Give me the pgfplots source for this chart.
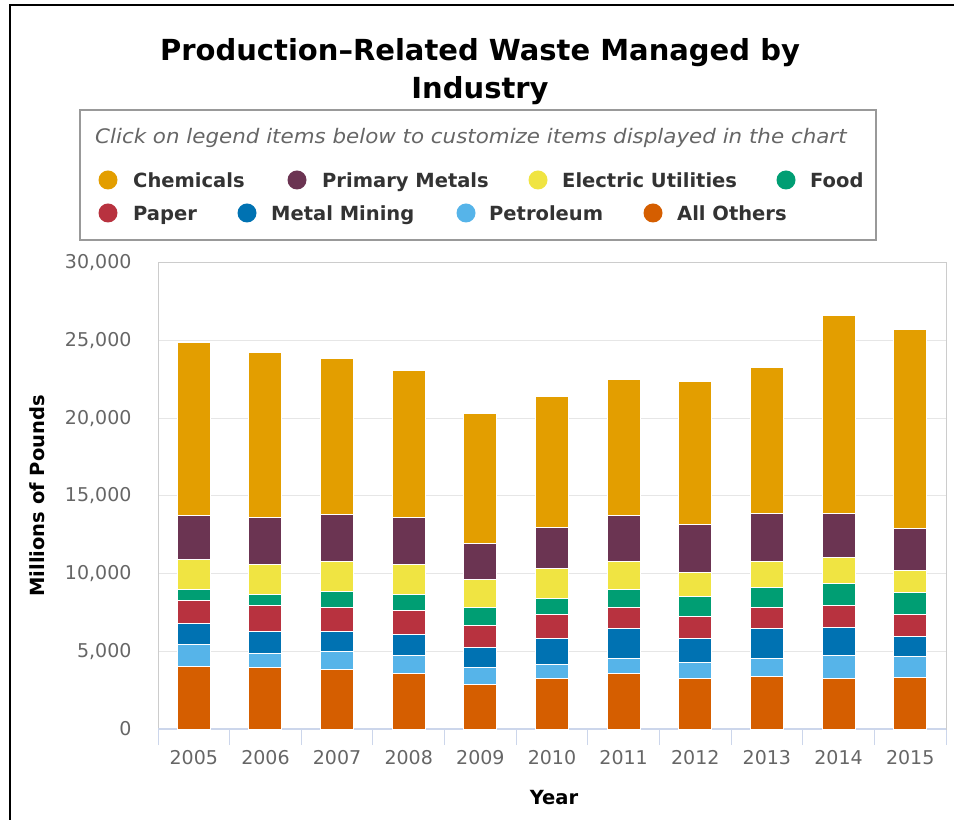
\documentclass[border=0pt]{standalone}
\usepackage{fontspec}
\setmainfont{DejaVu Sans}
\usepackage{pgfplots}
\usepackage{pgfplotstable}
\pgfplotsset{compat=1.18}
\definecolor{chem}{HTML}{E39E00}
\definecolor{pmet}{HTML}{6B3452}
\definecolor{elec}{HTML}{F0E442}
\definecolor{food}{HTML}{009E73}
\definecolor{paper}{HTML}{B8323F}
\definecolor{mmin}{HTML}{0072B2}
\definecolor{petr}{HTML}{56B4E9}
\definecolor{aoth}{HTML}{D55E00}
\definecolor{axblue}{HTML}{CCD6EB}
\definecolor{gridc}{HTML}{E6E6E6}
\definecolor{tickc}{HTML}{666666}
\definecolor{legtxt}{HTML}{333333}
\pgfplotstableread{
x AO Pet MM Pap Food Elec PM Chem
0 4030 1420 1330 1500 730 1870 2850 11120
1 3930 940 1420 1650 710 1910 3070 10620
2 3820 1180 1290 1520 1070 1890 3070 10040
3 3560 1180 1330 1530 1050 1910 3070 9440
4 2850 1100 1310 1390 1180 1780 2360 8370
5 3240 920 1680 1540 1030 1930 2600 8480
6 3580 950 1910 1370 1200 1780 2970 8710
7 3220 1090 1530 1410 1290 1550 3090 9160
8 3350 1180 1910 1370 1330 1650 3070 9440
9 3220 1540 1790 1390 1420 1670 2830 12750
10 3330 1330 1280 1420 1420 1410 2730 12830
}\datatable
\begin{document}
\begin{tikzpicture}
\path[use as bounding box] (0,0) rectangle (954pt,820pt);
% frame
\draw[line width=2.5pt,black] (10pt,0) -- (10pt,815pt) -- (954pt,815pt);
% title
\node[font=\fontsize{29}{33}\selectfont\bfseries] at (480pt,767pt) {Production–Related Waste Managed by};
\node[font=\fontsize{29}{33}\selectfont\bfseries] at (480pt,729pt) {Industry};
% legend box
\draw[line width=1.2pt,draw=gray!80] (80pt,580pt) rectangle (876pt,710pt);
\node[anchor=base west,inner sep=0pt,font=\fontsize{20}{24}\selectfont\itshape,text=tickc] at (95pt,676pt) {\scalebox{1.07}[1]{Click on legend items below to customize items displayed in the chart}};
\foreach \c/\t/\cx/\tx/\yy in {chem/Chemicals/108/133/640, pmet/Primary Metals/297/322/640, elec/Electric Utilities/538/562/640, food/Food/786/810/640, paper/Paper/108/133/607, mmin/Metal Mining/247/271/607, petr/Petroleum/466/489/607, aoth/All Others/653/677/607}{
  \fill[\c] (\cx pt,\yy pt) circle (9.5pt);
  \node[anchor=base west,inner sep=0pt,font=\fontsize{19.5}{23}\selectfont\bfseries,text=legtxt] at (\tx pt,\yy pt-7.5pt) {\t};
}
% axis titles
\node[rotate=90,font=\fontsize{19.5}{23}\selectfont\bfseries] at (37pt,324pt) {Millions of Pounds};
\node[font=\fontsize{19.5}{23}\selectfont\bfseries] at (554pt,22pt) {Year};
\begin{axis}[
  at={(158pt,91pt)}, anchor=south west,
  scale only axis, width=788pt, height=466pt,
  ybar stacked, bar width=33pt,
  xmin=-0.5, xmax=10.5, ymin=0, ymax=30000,
  xtick={-0.5,0.5,...,10.5}, xticklabels={},
  extra x ticks={0,1,...,10},
  extra x tick labels={2005,2006,2007,2008,2009,2010,2011,2012,2013,2014,2015},
  extra x tick style={major tick length=0pt, grid=none, xticklabel style={yshift=-18pt}},
  xtick pos=left, tick align=outside, major tick length=16pt,
  xtick style={draw=axblue, line width=1pt},
  ytick={0,5000,...,30000}, ytick style={draw=none},
  scaled y ticks=false,
  ymajorgrids, grid style={draw=gridc, line width=1pt},
  axis line style={draw=gray!40, line width=1pt},
  /pgf/number format/assume math mode=true,
  /pgf/number format/1000 sep={,},
  ticklabel style={font=\fontsize{19}{22}\selectfont, text=tickc},
  yticklabel style={xshift=-7pt},
  every axis plot/.append style={draw=white, line width=1pt},
]
\addplot[fill=aoth] table[x=x,y=AO]{\datatable};
\addplot[fill=petr] table[x=x,y=Pet]{\datatable};
\addplot[fill=mmin] table[x=x,y=MM]{\datatable};
\addplot[fill=paper] table[x=x,y=Pap]{\datatable};
\addplot[fill=food] table[x=x,y=Food]{\datatable};
\addplot[fill=elec] table[x=x,y=Elec]{\datatable};
\addplot[fill=pmet] table[x=x,y=PM]{\datatable};
\addplot[fill=chem] table[x=x,y=Chem]{\datatable};
\draw[axblue, line width=1.5pt] (rel axis cs:0,0) -- (rel axis cs:1,0);
\end{axis}
\end{tikzpicture}
\end{document}
